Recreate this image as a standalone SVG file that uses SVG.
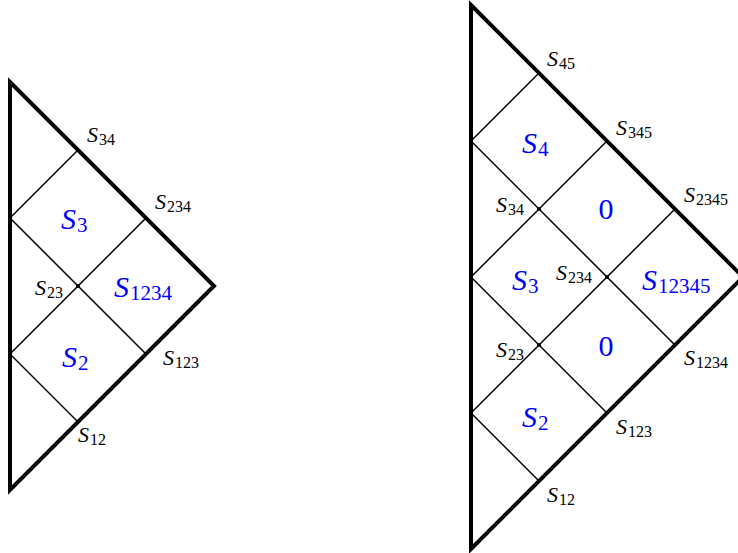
<svg xmlns="http://www.w3.org/2000/svg" width="738" height="553" viewBox="0 0 738 553">
<style>
.thick{fill:none;stroke:#000;stroke-width:4;stroke-linejoin:miter;stroke-linecap:square}
.thin{fill:none;stroke:#000;stroke-width:1.5}
.dot{fill:#000}
text{font-family:"Liberation Serif","Times New Roman",serif}
.k{font-size:22px;fill:#000}
.k .sb{font-size:16px}
.b{font-size:30px;fill:#0000ff}
.b .sb{font-size:21px}
.i{font-style:italic}
</style>
<rect width="738" height="553" fill="#fff"/>
<g id="connectors">
  <polygon class="thick" points="10,82 214,286 10,490"/>
  <line class="thin" x1="10" y1="218" x2="78" y2="150"/>
  <line class="thin" x1="10" y1="218" x2="146" y2="354"/>
  <line class="thin" x1="10" y1="354" x2="146" y2="218"/>
  <line class="thin" x1="10" y1="354" x2="78" y2="422"/>
  <polygon class="thick" points="471,5 743,277 471,549"/>
  <line class="thin" x1="471" y1="141" x2="539" y2="73"/>
  <line class="thin" x1="471" y1="141" x2="675" y2="345"/>
  <line class="thin" x1="471" y1="277" x2="607" y2="141"/>
  <line class="thin" x1="471" y1="277" x2="607" y2="413"/>
  <line class="thin" x1="471" y1="413" x2="675" y2="209"/>
  <line class="thin" x1="471" y1="413" x2="539" y2="481"/>
  <circle class="dot" cx="78" cy="286" r="2"/>
  <circle class="dot" cx="539" cy="209" r="2"/>
  <circle class="dot" cx="607" cy="277" r="2"/>
  <circle class="dot" cx="539" cy="345" r="2"/>
</g>
<g id="left-labels">
  <text id="L-S34" class="k" x="87" y="142"><tspan class="i">S</tspan><tspan class="sb" dx="1" dy="3">34</tspan></text>
  <text id="L-S234" class="k" x="155" y="209"><tspan class="i">S</tspan><tspan class="sb" dx="1" dy="3">234</tspan></text>
  <text id="L-S23" class="k" x="35" y="295"><tspan class="i">S</tspan><tspan class="sb" dx="1" dy="3">23</tspan></text>
  <text id="L-S123" class="k" x="163" y="365"><tspan class="i">S</tspan><tspan class="sb" dx="1" dy="3">123</tspan></text>
  <text id="L-S12" class="k" x="78" y="442"><tspan class="i">S</tspan><tspan class="sb" dx="1" dy="3">12</tspan></text>
  <text id="L-S3" class="b" x="61" y="229"><tspan class="i">S</tspan><tspan class="sb" dx="1" dy="3">3</tspan></text>
  <text id="L-S1234" class="b" x="114" y="297"><tspan class="i">S</tspan><tspan class="sb" dx="1" dy="3">1234</tspan></text>
  <text id="L-S2" class="b" x="62" y="367"><tspan class="i">S</tspan><tspan class="sb" dx="1" dy="3">2</tspan></text>
</g>
<g id="right-labels">
  <text id="R-S45" class="k" x="547" y="66"><tspan class="i">S</tspan><tspan class="sb" dx="1" dy="3">45</tspan></text>
  <text id="R-S345" class="k" x="616" y="135"><tspan class="i">S</tspan><tspan class="sb" dx="1" dy="3">345</tspan></text>
  <text id="R-S2345" class="k" x="684" y="202"><tspan class="i">S</tspan><tspan class="sb" dx="1" dy="3">2345</tspan></text>
  <text id="R-S34" class="k" x="496" y="212"><tspan class="i">S</tspan><tspan class="sb" dx="1" dy="3">34</tspan></text>
  <text id="R-S234" class="k" x="556" y="280"><tspan class="i">S</tspan><tspan class="sb" dx="1" dy="3">234</tspan></text>
  <text id="R-S23" class="k" x="496" y="357"><tspan class="i">S</tspan><tspan class="sb" dx="1" dy="3">23</tspan></text>
  <text id="R-S1234" class="k" x="684" y="365"><tspan class="i">S</tspan><tspan class="sb" dx="1" dy="3">1234</tspan></text>
  <text id="R-S123" class="k" x="616" y="434"><tspan class="i">S</tspan><tspan class="sb" dx="1" dy="3">123</tspan></text>
  <text id="R-S12" class="k" x="547" y="502"><tspan class="i">S</tspan><tspan class="sb" dx="1" dy="3">12</tspan></text>
  <text id="R-S4" class="b" x="522" y="153"><tspan class="i">S</tspan><tspan class="sb" dx="1" dy="3">4</tspan></text>
  <text id="R-0a" class="b" x="606" y="219" text-anchor="middle">0</text>
  <text id="R-S3" class="b" x="512" y="290"><tspan class="i">S</tspan><tspan class="sb" dx="1" dy="3">3</tspan></text>
  <text id="R-S12345" class="b" x="642" y="290"><tspan class="i">S</tspan><tspan class="sb" dx="1" dy="3">12345</tspan></text>
  <text id="R-0b" class="b" x="606" y="356" text-anchor="middle">0</text>
  <text id="R-S2" class="b" x="522" y="427"><tspan class="i">S</tspan><tspan class="sb" dx="1" dy="3">2</tspan></text>
</g>
</svg>
